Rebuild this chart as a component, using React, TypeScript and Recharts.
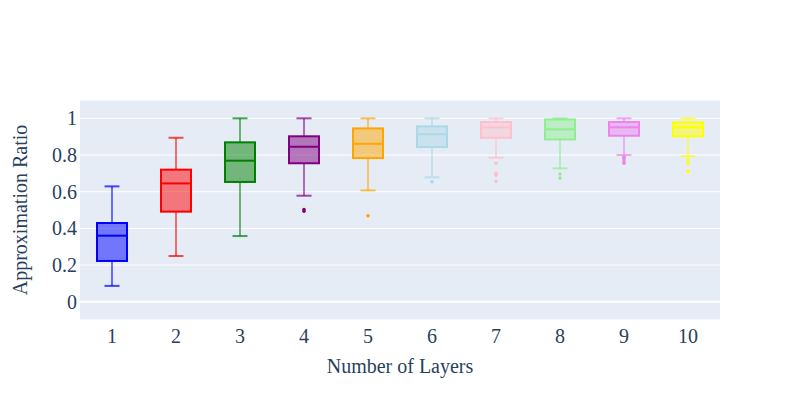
import React from 'react';
import {
  ComposedChart,
  Bar,
  Line,
  XAxis,
  YAxis,
  CartesianGrid,
  ReferenceLine,
} from 'recharts';

const layers = ['1', '2', '3', '4', '5', '6', '7', '8', '9', '10'];
const colors = ['#0000ff', '#ff0000', '#008000', '#800080', '#ffa500', '#add8e6', '#ffc0cb', '#90ee90', '#ee82ee', '#ffff00'];
const lowerWhisker = [0.086, 0.249, 0.358, 0.578, 0.607, 0.678, 0.785, 0.727, 0.8, 0.793];
const q1 = [0.222, 0.491, 0.653, 0.755, 0.783, 0.843, 0.894, 0.885, 0.905, 0.902];
const median = [0.36, 0.645, 0.769, 0.845, 0.861, 0.913, 0.951, 0.94, 0.951, 0.951];
const q3 = [0.429, 0.72, 0.869, 0.902, 0.945, 0.956, 0.98, 0.994, 0.98, 0.978];
const upperWhisker = [0.629, 0.894, 1.0, 1.0, 1.0, 1.0, 1.0, 1.0, 1.0, 1.0];
const outliers: number[][] = [
  [],
  [],
  [],
  [0.503, 0.493],
  [0.469],
  [0.654],
  [0.755, 0.7, 0.69, 0.656],
  [0.696, 0.674],
  [0.79, 0.78, 0.767, 0.755],
  [0.774, 0.755, 0.711],
];
const yTicks = [0, 0.2, 0.4, 0.6, 0.8, 1];

const MAX_OUT = 4;
const data = layers.map((layer, i) => {
  const row: any = {
    layer,
    color: colors[i],
    min: lowerWhisker[i],
    q1: q1[i],
    median: median[i],
    q3: q3[i],
    max: upperWhisker[i],
  };
  for (let k = 0; k < MAX_OUT; k++) {
    row['o' + k] = outliers[i][k] !== undefined ? outliers[i][k] : null;
  }
  return row;
});

const FONT = '"Liberation Serif", "Times New Roman", Times, serif';
const TEXT = '#2a3f5f';

const BoxShape = (props: any) => {
  const { x, y, width, height, payload } = props;
  if (x == null || y == null || !payload) return null;
  const top = Math.min(y, y + height);
  const h = Math.abs(height);
  const { min, max, color } = payload;
  const pos = (v: number) => top + ((max - v) / (max - min)) * h;
  const cx = x + width / 2;
  const capHalf = width / 4;
  const yQ1 = pos(payload.q1);
  const yQ3 = pos(payload.q3);
  const yMed = pos(payload.median);
  const yMax = pos(max);
  const yMin = pos(min);
  const wo = 0.55;
  return (
    <g>
      <line x1={cx} x2={cx} y1={yMax} y2={yQ3} stroke={color} strokeOpacity={wo} strokeWidth={2} />
      <line x1={cx} x2={cx} y1={yQ1} y2={yMin} stroke={color} strokeOpacity={wo} strokeWidth={2} />
      <line x1={cx - capHalf} x2={cx + capHalf} y1={yMax} y2={yMax} stroke={color} strokeOpacity={0.7} strokeWidth={2} />
      <line x1={cx - capHalf} x2={cx + capHalf} y1={yMin} y2={yMin} stroke={color} strokeOpacity={0.7} strokeWidth={2} />
      <rect
        x={x}
        y={yQ3}
        width={width}
        height={yQ1 - yQ3}
        fill={color}
        fillOpacity={0.5}
        stroke={color}
        strokeWidth={2}
      />
      <line x1={x} x2={x + width} y1={yMed} y2={yMed} stroke={color} strokeWidth={2} />
    </g>
  );
};

const OutlierDot = (props: any) => {
  const { cx, cy, payload, index, dataKey } = props;
  if (typeof cx !== 'number' || typeof cy !== 'number' || payload == null || payload[dataKey] == null) {
    return <g key={`e-${dataKey}-${index}`} />;
  }
  return <circle key={`d-${dataKey}-${index}`} cx={cx} cy={cy} r={1.8} fill={payload.color} />;
};

const tickStyle = { fill: TEXT, fontSize: 20, fontFamily: FONT, style: { fontFamily: FONT } };

export default function App() {
  return (
    <div
      style={{
        position: 'absolute',
        left: 0,
        top: 0,
        width: 800,
        height: 400,
        background: '#fff',
        fontFamily: FONT,
      }}
    >
      <ComposedChart
        width={800}
        height={400}
        data={data}
        margin={{ top: 100, right: 80, bottom: 0, left: 0 }}
        style={{ fontFamily: FONT }}
      >
        <CartesianGrid fill="#E5ECF6" stroke="#ffffff" strokeWidth={1} vertical={false} />
        <XAxis
          dataKey="layer"
          type="category"
          height={80}
          axisLine={false}
          tickLine={false}
          tickSize={0}
          tickMargin={9}
          interval={0}
          tick={tickStyle}
          label={{
            value: 'Number of Layers',
            position: 'insideBottom',
            offset: 27,
            style: { fill: TEXT, fontSize: 20, fontFamily: FONT },
          }}
        />
        <YAxis
          type="number"
          domain={[-0.1, 1.1]}
          ticks={yTicks}
          width={80}
          axisLine={false}
          tickLine={false}
          tickSize={0}
          tickMargin={3}
          allowDataOverflow
          tickFormatter={(v: number) => String(Math.round(v * 10) / 10)}
          tick={tickStyle}
          label={{
            value: 'Approximation Ratio',
            angle: -90,
            position: 'center',
            dx: -20,
            style: { fill: TEXT, fontSize: 20, fontFamily: FONT, textAnchor: 'middle' },
          }}
        />
        <ReferenceLine y={0} stroke="#ffffff" strokeWidth={2} />
        <Bar
          dataKey={(d: any) => [d.min, d.max]}
          barSize={30}
          shape={<BoxShape />}
          isAnimationActive={false}
        />
        {Array.from({ length: MAX_OUT }, (_, k) => (
          <Line
            key={'o' + k}
            dataKey={'o' + k}
            stroke="none"
            connectNulls={false}
            isAnimationActive={false}
            activeDot={false}
            dot={(p: any) => <OutlierDot {...p} dataKey={'o' + k} />}
          />
        ))}
      </ComposedChart>
    </div>
  );
}
